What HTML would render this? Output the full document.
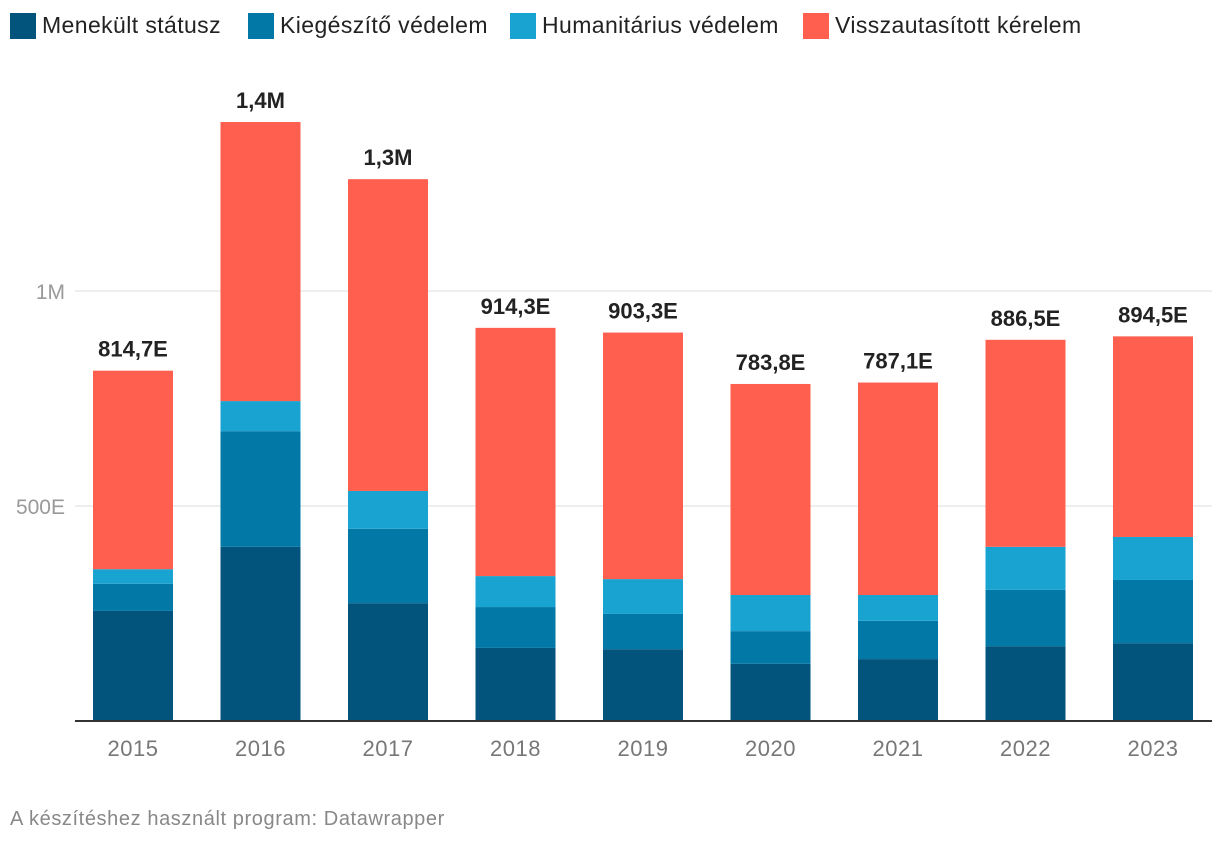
<!DOCTYPE html>
<html><head><meta charset="utf-8"><style>
body{margin:0;background:#fff;width:1220px;height:846px;overflow:hidden;font-family:"Liberation Sans",sans-serif}
.leg{position:absolute;top:12px;display:flex;align-items:center;font-size:23px;letter-spacing:0.4px;color:#222}
.leg span.sw{width:26px;height:26px;margin-right:6px;display:inline-block}
</style></head><body>
<div>
<div class="leg" style="left:10px"><span class="sw" style="background:#03547d"></span>Menekült státusz</div>
<div class="leg" style="left:248px"><span class="sw" style="background:#0278a6"></span>Kiegészítő védelem</div>
<div class="leg" style="left:510px"><span class="sw" style="background:#19a3d0"></span>Humanitárius védelem</div>
<div class="leg" style="left:803px"><span class="sw" style="background:#ff5f4e"></span>Visszautasított kérelem</div>
</div>
<svg id="chart" width="1220" height="846" style="position:absolute;left:0;top:0"></svg>
<div style="position:absolute;left:10px;top:808px;font-size:20px;letter-spacing:0.6px;color:#888">A készítéshez használt program: Datawrapper</div>
<script>
const years=["2015","2016","2017","2018","2019","2020","2021","2022","2023"];
const menekult=[256,405,274,170,167,133,144,174,181];
const kiegeszito=[63,269,173,95,82,76,89,131,147];
const humanitarius=[34,70,88,72,81,84,60,100,100];
const totals=[814.7,1393,1260,914.3,903.3,783.8,787.1,886.5,894.5];
const totalLabels=["814,7E","1,4M","1,3M","914,3E","903,3E","783,8E","787,1E","886,5E","894,5E"];
const yTicks=[500,1000];
const yTickLabels=["500E","1M"];
const colors=["#03547d","#0278a6","#19a3d0","#ff5f4e"];
const svg=document.getElementById('chart');
const NS="http://www.w3.org/2000/svg";
const y=v=>721-v*0.43;
const x=i=>133+i*127.5;
const bw=80;
function mk(t,a){const e=document.createElementNS(NS,t);for(const k in a)e.setAttribute(k,a[k]);svg.appendChild(e);return e;}
yTicks.forEach((t,i)=>{
  const g=mk('line',{x1:75,x2:1212,y1:y(t),y2:y(t),stroke:'#ddd','stroke-width':1});
  
  
  const l=mk('text',{x:65,y:y(t)+8,'text-anchor':'end','font-size':21,fill:'#999','font-family':'Liberation Sans'});
  l.textContent=yTickLabels[i];
  
  
});
years.forEach((yr,i)=>{
  const segs=[menekult[i],kiegeszito[i],humanitarius[i]];
  segs.push(totals[i]-segs[0]-segs[1]-segs[2]);
  let acc=0;
  segs.forEach((v,j)=>{
    const r=mk('rect',{x:x(i)-bw/2,y:y(acc+v),width:bw,height:y(acc)-y(acc+v),fill:colors[j]});
    
    
    acc+=v;
  });
  const t=mk('text',{x:x(i),y:y(totals[i])-14,'text-anchor':'middle','font-size':22,'font-weight':'bold',fill:'#222','font-family':'Liberation Sans'});
  t.textContent=totalLabels[i];
  
  
  const xl=mk('text',{x:x(i),y:756,'text-anchor':'middle','font-size':22,fill:'#777','font-family':'Liberation Sans','letter-spacing':'0.5'});
  xl.textContent=yr;
  
  
});
const ax=mk('line',{x1:75,x2:1212,y1:721,y2:721,stroke:'#333','stroke-width':2});


</script>
</body></html>
